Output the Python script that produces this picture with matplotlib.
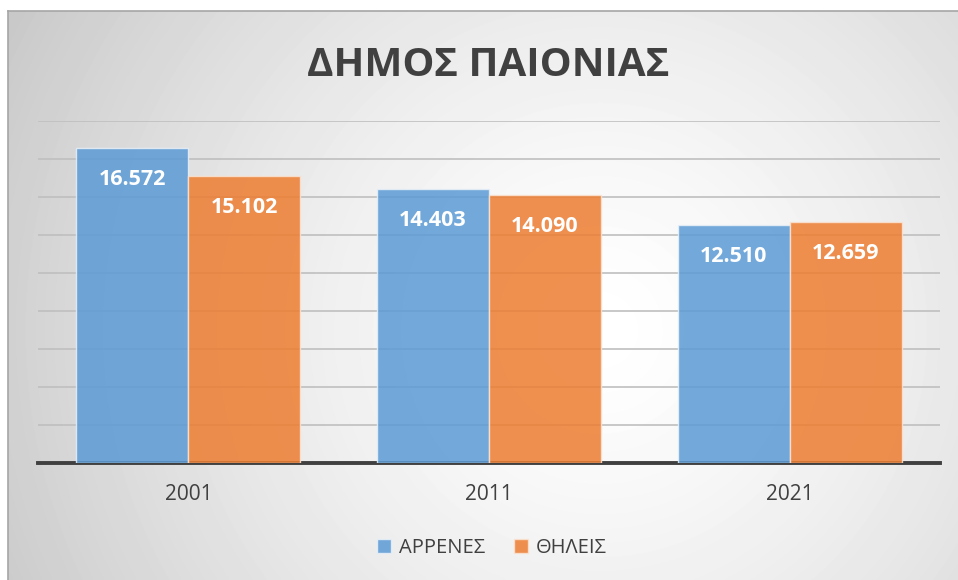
import numpy as np
import matplotlib
matplotlib.use("Agg")
import matplotlib.pyplot as plt

plt.rcParams['font.family'] = ['Open Sans', 'DejaVu Sans']

years = ["2001", "2011", "2021"]
males = [16572, 14403, 12510]
females = [15102, 14090, 12659]
labels_m = ["16.572", "14.403", "12.510"]
labels_f = ["15.102", "14.090", "12.659"]

W, H = 958, 580
fig = plt.figure(figsize=(W / 100, H / 100), dpi=100)
fig.patch.set_facecolor("white")

# background panel with radial gradient
bg = fig.add_axes([8 / W, 0, 1 - 8 / W, 1 - 11 / H], zorder=-5)
yy, xx = np.mgrid[11:H, 8:W]
d = np.hypot(xx - 600, yy - 330) / 685.0
shade = 1.0 - 0.22 * np.clip(d, 0, 1.2) ** 1.4
bg.imshow(shade, cmap="gray", vmin=0, vmax=1, aspect="auto",
          extent=[0, 1, 0, 1], interpolation="bilinear")
bg.set_xlim(0, 1)
bg.set_ylim(0, 1)
bg.set_xticks([])
bg.set_yticks([])
for s in ["right", "bottom"]:
    bg.spines[s].set_visible(False)
for s in ["top", "left"]:
    bg.spines[s].set_color("#a6a6a6")
    bg.spines[s].set_linewidth(1.2)

ax = fig.add_axes([38 / W, 117 / H, 902 / W, (463 - 121) / H])
ax.patch.set_alpha(0)
x = np.arange(len(years))
w = 0.372
b1 = ax.bar(x - w, males, w, align="edge", color="#5B9BD5", alpha=0.85,
            edgecolor="#e8f0f8", linewidth=1, label="ΑΡΡΕΝΕΣ", zorder=3)
b2 = ax.bar(x, females, w, align="edge", color="#ED7D31", alpha=0.85,
            edgecolor="#fbe3d3", linewidth=1, label="ΘΗΛΕΙΣ", zorder=3)

for bars, labs in [(b1, labels_m), (b2, labels_f)]:
    for r, lab in zip(bars, labs):
        ax.annotate(lab, (r.get_x() + r.get_width() / 2, r.get_height()),
                    xytext=(0, -22.5), textcoords="offset points",
                    ha="center", va="center", color="white",
                    fontsize=15.5, fontweight="bold", zorder=5)

ax.set_xlim(-0.5, 2.5)
ax.set_ylim(0, 18000)
ax.set_yticks(np.arange(2000, 18001, 2000))
ax.yaxis.grid(True, color="#bfbfbf", linewidth=1.2, zorder=0)
ax.set_axisbelow(True)
ax.tick_params(axis="y", left=False, labelleft=False)
ax.set_xticks(x)
ax.set_xticklabels(years, fontsize=15, color="#404040")
ax.tick_params(axis="x", length=0, pad=15)
for s in ["top", "right", "left"]:
    ax.spines[s].set_visible(False)
ax.spines["bottom"].set_color("#404040")
ax.spines["bottom"].set_linewidth(2.8)

fig.text(488 / W, 1 - 65 / H, "ΔΗΜΟΣ ΠΑΙΟΝΙΑΣ", ha="center", va="center",
         fontsize=29, fontweight="bold", color="#404040")

fig.legend(loc="center", bbox_to_anchor=(492 / W, 1 - 548 / H), ncol=2,
           frameon=False, fontsize=14.5, handlelength=0.7, handleheight=0.7,
           handletextpad=0.4, columnspacing=1.4, labelcolor="#404040")

fig.savefig("out.png", dpi=100)
